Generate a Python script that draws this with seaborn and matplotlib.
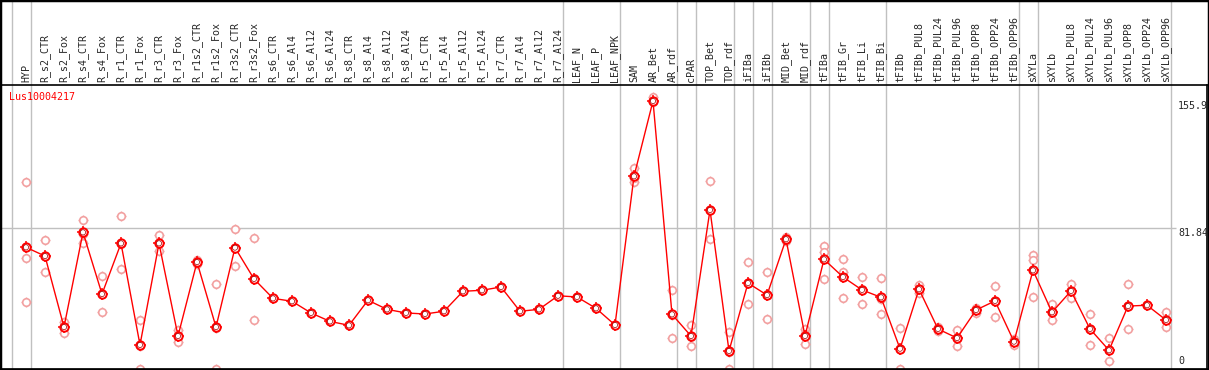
import pandas as pd
import matplotlib
matplotlib.use('Agg')
import matplotlib.pyplot as plt
from matplotlib.patches import Rectangle
import seaborn as sns

# categories (tissue / treatment)
categories = [
    'HYP', 'R_s2_CTR', 'R_s2_Fox', 'R_s4_CTR', 'R_s4_Fox', 'R_r1_CTR', 'R_r1_Fox',
    'R_r3_CTR', 'R_r3_Fox', 'R_r1s2_CTR', 'R_r1s2_Fox', 'R_r3s2_CTR', 'R_r3s2_Fox',
    'R_s6_CTR', 'R_s6_Al4', 'R_s6_Al12', 'R_s6_Al24', 'R_s8_CTR', 'R_s8_Al4',
    'R_s8_Al12', 'R_s8_Al24', 'R_r5_CTR', 'R_r5_Al4', 'R_r5_Al12', 'R_r5_Al24',
    'R_r7_CTR', 'R_r7_Al4', 'R_r7_Al12', 'R_r7_Al24', 'LEAF_N', 'LEAF_P', 'LEAF_NPK',
    'SAM', 'AR_Bet', 'AR_rdf', 'cPAR', 'TOP_Bet', 'TOP_rdf', 'iFIBa', 'iFIBb',
    'MID_Bet', 'MID_rdf', 'tFIBa', 'tFIB_Gr', 'tFIB_Li', 'tFIB_Bi', 'tFIBb',
    'tFIBb_PUL8', 'tFIBb_PUL24', 'tFIBb_PUL96', 'tFIBb_OPP8', 'tFIBb_OPP24',
    'tFIBb_OPP96', 'sXYLa', 'sXYLb', 'sXYLb_PUL8', 'sXYLb_PUL24', 'sXYLb_PUL96',
    'sXYLb_OPP8', 'sXYLb_OPP24', 'sXYLb_OPP96',
]

# mean expression per category
means = [
    70.8, 65.7, 24.4, 79.5, 43.6, 73.1, 14.0, 73.1, 19.2, 62.2, 24.4, 70.6, 52.4,
    41.1, 39.4, 32.6, 27.7, 25.4, 40.0, 34.7, 32.6, 32.0, 33.6, 45.2, 45.8, 47.7,
    33.6, 34.7, 42.6, 41.9, 35.3, 25.6,
    112.1, 155.9, 31.8, 19.2, 92.5, 10.5, 50.0, 43.0, 75.5, 19.2, 63.8, 53.5, 46.0,
    41.7, 11.8, 46.4, 23.3, 18.0, 34.3, 39.6, 15.9, 57.4, 33.0, 45.4, 23.3, 10.9,
    36.6, 37.1, 28.5,
]

# individual replicates (empty = single sample)
replicates = [
    [108.6, 64.4, 38.8], [75.0, 56.3, 65.7], [27.2, 21.1, 24.4], [86.7, 73.1, 78.7],
    [54.1, 33.0, 43.6], [88.8, 58.0, 72.5], [28.3, 0.0, 13.6], [78.0, 68.6, 73.1],
    [22.7, 15.5, 19.2], [63.4, 62.2, 61.1], [49.3, 0.0, 24.0], [81.4, 59.7, 70.6],
    [76.0, 28.3, 52.7],
    [], [], [], [], [], [], [], [], [], [], [], [], [], [], [], [], [], [], [],
    [116.8, 108.6, 110.9], [158.4, 155.9, 155.2], [46.0, 17.9, 31.7], [25.6, 13.4, 18.6],
    [109.4, 75.5, 92.5], [21.3, 0.0, 10.1], [62.2, 37.8, 50.0], [56.3, 29.1, 43.8],
    [77.0, 74.5, 75.0], [23.1, 14.4, 20.4], [71.6, 68.2, 52.2], [63.8, 56.3, 41.1],
    [53.5, 37.8, 46.5], [52.8, 31.8, 40.7], [23.7, 0.0, 11.8], [48.9, 44.4, 46.4],
    [24.6, 23.3, 22.1], [22.7, 13.6, 18.0], [35.7, 32.4, 34.3], [48.3, 30.1, 39.6],
    [17.6, 14.0, 15.9], [66.3, 63.4, 42.1], [37.8, 28.5, 33.0], [49.4, 41.1, 45.4],
    [31.8, 13.8, 23.3], [17.9, 4.7, 10.9], [49.3, 23.3, 36.6], [], [33.0, 24.3, 28.5],
]

# group separators (drawn just right of these category indexes)
separators = [-1, 0, 28, 31, 34, 35, 37, 38, 39, 41, 42, 45, 52, 53, 60]

gene_name = 'Lus10004217'
y_marks = [155.9, 81.84, 0]

sns.set_style('white')
plt.rcParams['font.family'] = ['DejaVu Sans Mono']

mean_df = pd.DataFrame({'x': range(len(categories)), 'value': means})
rep_df = pd.DataFrame(
    [(i, v) for i, vals in enumerate(replicates) for v in vals],
    columns=['x', 'value'])

W, H = 1209, 370
fig = plt.figure(figsize=(W / 100, H / 100), dpi=100)
# plot area: x 1..1207 px, y 85..369 px
ax = fig.add_axes([1 / W, 1 / H, 1206 / W, 284 / H])

ax.set_xlim((1 - 26) / 19, (1207 - 26) / 19)
ax.set_ylim(0, 284 / 1.719)

# grid lines
for s in separators:
    ax.axvline(s + 0.24, ymin=0, ymax=(284 + 90) / 284, color='#c0c0c0', lw=1,
               clip_on=False, zorder=0)
ax.hlines(y_marks[1], (1 - 26) / 19, (1176 - 26) / 19, color='#c0c0c0', lw=1, zorder=0)

# replicates
sns.scatterplot(data=rep_df, x='x', y='value', marker='+', s=55, color='#f2a0a0',
                linewidth=1, ax=ax, zorder=2)
sns.scatterplot(data=rep_df, x='x', y='value', marker='o', s=30, facecolor='white',
                edgecolor='#f2a0a0', linewidth=1.2, ax=ax, zorder=2)

# mean line
sns.lineplot(data=mean_df, x='x', y='value', color='red', lw=1, ax=ax, zorder=3)
sns.scatterplot(data=mean_df, x='x', y='value', marker='+', s=70, color='red',
                linewidth=1.1, ax=ax, zorder=4)
sns.scatterplot(data=mean_df, x='x', y='value', marker='o', s=36, facecolor='white',
                edgecolor='red', linewidth=1.4, ax=ax, zorder=5)
sns.scatterplot(data=mean_df, x='x', y='value', marker='o', s=14, facecolor='none',
                edgecolor='#a00000', linewidth=0.5, ax=ax, zorder=6)

# category labels on top
ax.xaxis.tick_top()
ax.set_xticks(range(len(categories)))
ax.set_xticklabels(categories, rotation=90, fontsize=7.2)
ax.tick_params(axis='x', length=0, pad=2)
ax.set_yticks([])
ax.set_xlabel('')
ax.set_ylabel('')

# value labels at right
ax.text((1178 - 26) / 19, y_marks[0], f'{y_marks[0]}', va='top', ha='left', fontsize=7.2)
ax.text((1178 - 26) / 19, y_marks[1], f'{y_marks[1]}', va='top', ha='left', fontsize=7.2)
ax.text((1178 - 26) / 19, 1.5, '0', va='bottom', ha='left', fontsize=7.2)

ax.text((9 - 26) / 19, (369 - 97) / 1.719, gene_name, color='red', va='center',
        ha='left', fontsize=7.2)

for sp in ax.spines.values():
    sp.set_color('black')
    sp.set_linewidth(1.2)

fig.patches.append(Rectangle((0, 0), 1, 1, transform=fig.transFigure, fill=False,
                             edgecolor='black', lw=2.5))

fig.savefig('out.png', dpi=100)
